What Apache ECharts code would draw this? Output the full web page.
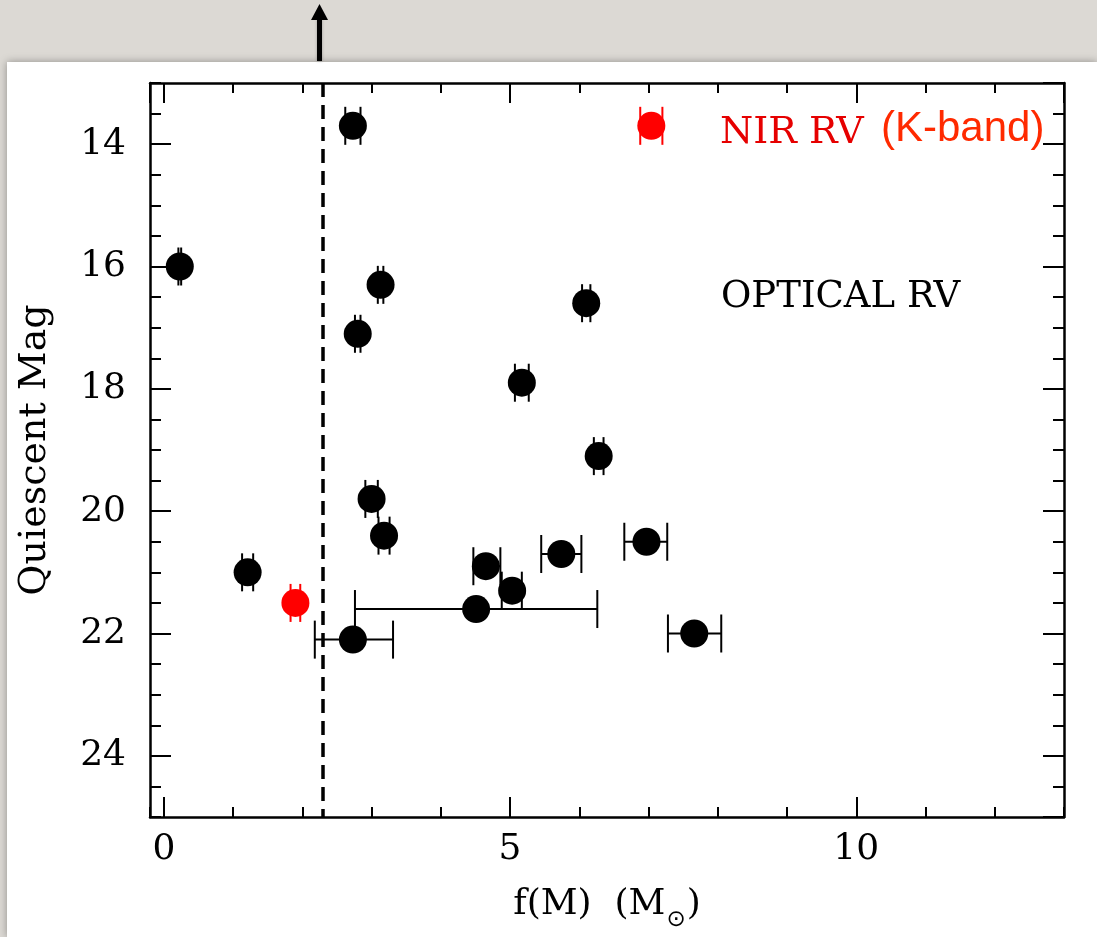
<!DOCTYPE html>
<html>
<head>
<meta charset="utf-8">
<script src="https://cdn.jsdelivr.net/npm/echarts@6/dist/echarts.min.js"></script>
<style>
  html, body { margin: 0; padding: 0; background: #dcd9d4; }
  #panel {
    position: absolute; left: 7px; top: 62px; width: 1090px; height: 875px;
    background: #fff; box-shadow: 0 0 8px rgba(0, 0, 0, 0.35);
  }
  #chart { position: absolute; left: 0; top: 0; width: 1097px; height: 937px; }
</style>
</head>
<body>
<div id="panel"></div>
<div id="chart"></div>
<script>
// optical RV sample: f(M), quiescent magnitude, and the x error range
const fmOptical = [2.73, 0.23, 3.13, 2.80, 6.10, 5.17, 6.28, 3.00, 3.18, 4.65, 5.03, 4.51, 2.73, 5.74, 6.97, 7.66, 1.21];
const magOptical = [13.7, 16.0, 16.3, 17.1, 16.6, 17.9, 19.1, 19.8, 20.4, 20.9, 21.3, 21.6, 22.1, 20.7, 20.5, 22.0, 21.0];
const fmLowOptical = [2.62, 0.21, 3.09, 2.76, 6.04, 5.07, 6.21, 2.91, 3.10, 4.47, 4.88, 2.76, 2.18, 5.45, 6.65, 7.28, 1.13];
const fmHighOptical = [2.84, 0.25, 3.17, 2.84, 6.16, 5.27, 6.35, 3.09, 3.26, 4.86, 5.17, 6.26, 3.31, 6.03, 7.27, 8.05, 1.29];

// NIR RV (K-band) sample, the first entry is the legend marker
const fmNir = [7.04, 1.90];
const magNir = [13.7, 21.5];
const fmLowNir = [6.88, 1.83];
const fmHighNir = [7.20, 1.97];

const fmLimit = 2.3;

const font = "DejaVu Serif";
const chart = echarts.init(document.getElementById("chart"));

function pts(xs, ys) { return xs.map((x, i) => [x, ys[i]]); }
function bars(lo, hi, ys) { return ys.map((y, i) => [lo[i], hi[i], y]); }

function errorBar(color) {
  return function (params, api) {
    const a = api.coord([api.value(0), api.value(2)]);
    const b = api.coord([api.value(1), api.value(2)]);
    const h = 19;
    const style = { stroke: color, lineWidth: 2 };
    return {
      type: "group",
      children: [
        { type: "line", shape: { x1: a[0], y1: a[1], x2: b[0], y2: b[1] }, style },
        { type: "line", shape: { x1: a[0], y1: a[1] - h, x2: a[0], y2: a[1] + h }, style },
        { type: "line", shape: { x1: b[0], y1: b[1] - h, x2: b[0], y2: b[1] + h }, style },
      ],
    };
  };
}

function xAx(pos, major, labels) {
  const iv = major ? 5 : 1;
  return {
    type: "value", position: pos, min: -0.2, max: 13,
    minInterval: iv, maxInterval: iv, splitNumber: major ? 3 : 13,
    axisLine: { show: major, onZero: false, lineStyle: { color: "#000", width: 2.5 } },
    axisTick: { inside: true, length: major ? 20 : 10, lineStyle: { color: "#000", width: 2 } },
    axisLabel: labels
      ? { show: true, margin: 15, color: "#000", fontFamily: font, fontSize: 36, showMinLabel: false, showMaxLabel: false }
      : { show: false },
    splitLine: { show: false },
    name: labels ? "{n|f(M)  (M}{s|⊙}{n|)}" : "",
    nameLocation: "middle",
    nameGap: 70,
    nameTextStyle: {
      rich: {
        n: { fontFamily: font, fontSize: 36, color: "#000", verticalAlign: "top" },
        s: { fontFamily: "DejaVu Sans", fontSize: 23, color: "#000", verticalAlign: "top", padding: [22, 1, 0, 1] },
      },
    },
  };
}

function yAx(pos, major, labels) {
  const iv = major ? 2 : 0.5;
  return {
    type: "value", position: pos, min: 13, max: 25, inverse: true,
    minInterval: iv, maxInterval: iv, splitNumber: major ? 6 : 24,
    axisLine: { show: major, onZero: false, lineStyle: { color: "#000", width: 2.5 } },
    axisTick: { inside: true, length: major ? 21 : 11, lineStyle: { color: "#000", width: 2 } },
    axisLabel: labels
      ? { show: true, margin: 24, color: "#000", fontFamily: font, fontSize: 36, showMinLabel: false, showMaxLabel: false }
      : { show: false },
    splitLine: { show: false },
    name: labels ? "Quiescent Mag" : "",
    nameLocation: "middle",
    nameGap: 96,
    nameTextStyle: { fontFamily: font, fontSize: 38, color: "#000" },
  };
}

chart.setOption({
  animation: false,
  grid: { left: 150, top: 83, right: 33, bottom: 116 },
  xAxis: [xAx("bottom", true, true), xAx("bottom", false, false), xAx("top", true, false), xAx("top", false, false)],
  yAxis: [yAx("left", true, true), yAx("left", false, false), yAx("right", true, false), yAx("right", false, false)],
  graphic: [
    { type: "rect", shape: { x: 317, y: 19, width: 5, height: 42 }, style: { fill: "#000", shadowBlur: 3, shadowColor: "rgba(0,0,0,0.3)" } },
    { type: "polygon", shape: { points: [[311, 20], [328, 20], [319.5, 4]] }, style: { fill: "#000" } },
    { type: "text", left: 720, top: 114, style: { text: "NIR RV", font: "38px 'DejaVu Serif'", fill: "#e60000" } },
    { type: "text", left: 881, top: 108, style: { text: "(K-band)", font: "42px 'Liberation Sans'", fill: "#ff2a00" } },
    { type: "text", left: 721, top: 279, style: { text: "OPTICAL RV", font: "37px 'DejaVu Serif'", fill: "#000" } },
  ],
  series: [
    {
      type: "custom", renderItem: errorBar("#000"), data: bars(fmLowOptical, fmHighOptical, magOptical),
      encode: { x: [0, 1], y: 2 }, z: 2, silent: true,
    },
    {
      type: "custom", renderItem: errorBar("#f00"), data: bars(fmLowNir, fmHighNir, magNir),
      encode: { x: [0, 1], y: 2 }, z: 2, silent: true,
    },
    {
      type: "scatter", data: pts(fmOptical, magOptical), symbolSize: 28,
      itemStyle: { color: "#000", opacity: 1 }, z: 3,
      markLine: {
        silent: true, symbol: "none", label: { show: false },
        lineStyle: { color: "#000", width: 3.5, type: [14, 8] },
        data: [{ xAxis: fmLimit }],
      },
    },
    {
      type: "scatter", data: pts(fmNir, magNir), symbolSize: 28,
      itemStyle: { color: "#f00", opacity: 1 }, z: 3,
    },
  ],
});
</script>
</body>
</html>
